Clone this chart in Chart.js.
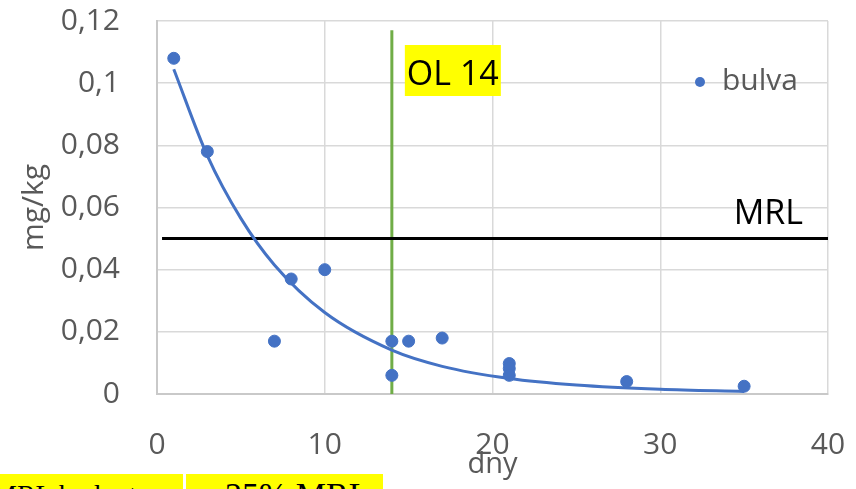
<!DOCTYPE html>
<html>
<head>
<meta charset="utf-8">
<script src="https://cdn.jsdelivr.net/npm/chart.js@4"></script>
<style>
  body { margin: 0; background: #fff; overflow: hidden; }
  #wrap { position: relative; width: 856px; height: 489px; }
  .note { position: absolute; top: 474px; height: 40px; background: #ffff00; color: #000;
          font-family: "Liberation Serif", "Times New Roman", serif; white-space: nowrap; overflow: hidden; box-sizing: border-box; }
</style>
</head>
<body>
<div id="wrap">
  <canvas id="chart" width="856" height="489"></canvas>
  <div class="note" style="left:0;width:183px;font-size:28px;line-height:42px;"><span style="margin-left:-8px">MRL hodnota</span></div>
  <div class="note" style="left:186px;width:197px;font-size:34px;line-height:42px;padding-left:39px;">25% MRL</div>
</div>
<script>
// residues in tubers (bulva), days after application
const days = [1, 3, 7, 8, 10, 14, 14, 15, 17, 21, 21, 21, 28, 35];
const bulva = [0.108, 0.078, 0.017, 0.037, 0.040, 0.017, 0.006, 0.017, 0.018, 0.0098, 0.0082, 0.006, 0.004, 0.0025];

// exponential trend line
const trendDays = [1, 3, 5, 7, 10, 14, 17, 21, 25, 30, 35];
const trendValues = [0.1045, 0.0767, 0.0565, 0.0415, 0.0262, 0.0141, 0.0089, 0.0050, 0.0029, 0.0015, 0.0008];

const mrlDays = [0.3, 40];
const mrlValues = [0.05, 0.05];
const olDays = [14, 14];
const olValues = [0, 0.117];

const xTickLabels = ['0', '10', '20', '30', '40'];
const yTickLabels = ['0', '0,02', '0,04', '0,06', '0,08', '0,1', '0,12'];

const FONT = '"Open Sans", "Liberation Sans", sans-serif';
const BLUE = '#4472c4';

function toPoints(xs, ys) {
  return xs.map((x, i) => ({x: x, y: ys[i]}));
}

const labelsPlugin = {
  id: 'labels',
  afterDraw(chart) {
    const ctx = chart.ctx;
    const area = chart.chartArea;
    const xs = chart.scales.x;
    const ys = chart.scales.y;
    ctx.save();

    // OL 14 label
    const olX = xs.getPixelForValue(olDays[0]) + 13;
    const olY = area.top + 24;
    ctx.fillStyle = '#ffff00';
    ctx.fillRect(olX, olY, 96, 51);
    ctx.fillStyle = '#000';
    ctx.font = '34px ' + FONT;
    ctx.textBaseline = 'alphabetic';
    ctx.textAlign = 'left';
    ctx.fillText('OL 14', olX + 2, olY + 40);

    // MRL label
    ctx.textAlign = 'right';
    ctx.fillText('MRL', area.right - 25, ys.getPixelForValue(mrlValues[0]) - 15);

    // legend
    const ds = chart.data.datasets[0];
    const lx = area.right - 128;
    const ly = area.top + 61;
    ctx.fillStyle = ds.backgroundColor;
    ctx.beginPath();
    ctx.arc(lx, ly, 5, 0, Math.PI * 2);
    ctx.fill();
    ctx.fillStyle = '#595959';
    ctx.font = '30px ' + FONT;
    ctx.textAlign = 'left';
    ctx.textBaseline = 'middle';
    ctx.fillText(ds.label, lx + 22, ly - 0.5);
    ctx.restore();
  }
};

const ctx = document.getElementById('chart').getContext('2d');
new Chart(ctx, {
  type: 'scatter',
  data: {
    datasets: [
      {
        label: 'bulva',
        data: toPoints(days, bulva),
        backgroundColor: BLUE,
        borderColor: BLUE,
        pointRadius: 6,
        borderWidth: 1
      },
      {
        label: 'trend',
        data: toPoints(trendDays, trendValues),
        showLine: true,
        borderColor: BLUE,
        borderWidth: 3,
        pointRadius: 0,
        cubicInterpolationMode: 'monotone'
      },
      {
        label: 'MRL',
        data: toPoints(mrlDays, mrlValues),
        showLine: true,
        borderColor: '#000',
        borderWidth: 3,
        pointRadius: 0
      },
      {
        label: 'OL',
        data: toPoints(olDays, olValues),
        showLine: true,
        borderColor: '#70ad47',
        borderWidth: 3,
        pointRadius: 0
      }
    ]
  },
  options: {
    responsive: false,
    animation: false,
    layout: { padding: { top: 21, right: 28, left: 0, bottom: 0 } },
    plugins: {
      legend: { display: false },
      tooltip: { enabled: false }
    },
    scales: {
      x: {
        type: 'linear',
        min: 0,
        max: 40,
        grid: { color: '#d9d9d9', lineWidth: 1.5, drawTicks: false },
        border: { color: '#c9c9c9', width: 2 },
        ticks: {
          stepSize: 10,
          padding: 33,
          color: '#595959',
          font: { family: FONT, size: 30 },
          callback: (v, i) => xTickLabels[i]
        },
        title: {
          display: true,
          text: 'dny',
          color: '#595959',
          font: { family: FONT, size: 29 },
          padding: { top: 0, bottom: 7 }
        },
        afterFit: scale => {
          scale.height = 95;
          scale.paddingLeft = 0;
          scale.paddingRight = 0;
        }
      },
      y: {
        min: 0,
        max: 0.12,
        grid: { color: '#d9d9d9', lineWidth: 1.5, drawTicks: false },
        border: { color: '#c9c9c9', width: 2 },
        ticks: {
          stepSize: 0.02,
          padding: 37,
          color: '#595959',
          font: { family: FONT, size: 30 },
          callback: (v, i) => yTickLabels[i]
        },
        title: {
          display: true,
          text: 'mg/kg',
          color: '#595959',
          font: { family: FONT, size: 30 },
          padding: { top: 16, bottom: 0 }
        },
        afterFit: scale => {
          scale.width = 157;
          scale.paddingTop = 0;
          scale.paddingBottom = 0;
        }
      }
    }
  },
  plugins: [labelsPlugin]
});
</script>
</body>
</html>
